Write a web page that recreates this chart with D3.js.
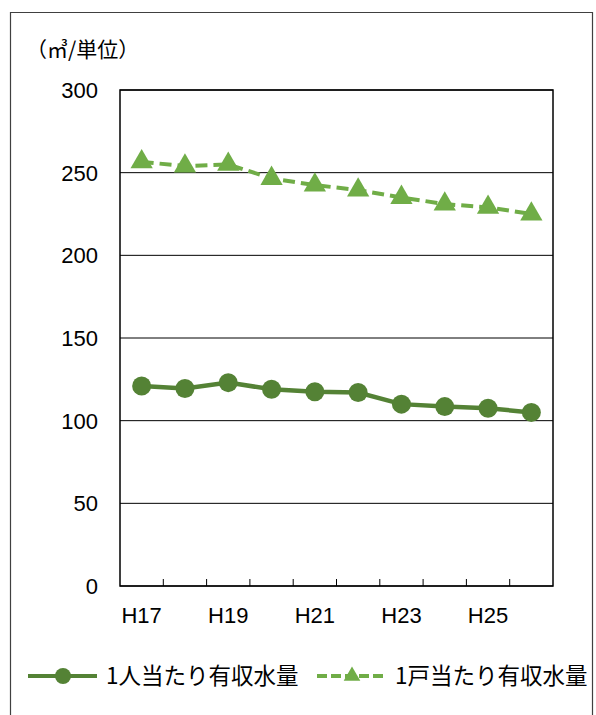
<!DOCTYPE html>
<html>
<head>
<meta charset="utf-8">
<script src="https://cdn.jsdelivr.net/npm/d3@7"></script>
<style>
  body { margin: 0; background: #fff; }
  svg { display: block; font-family: "Liberation Sans", "Noto Sans CJK JP", sans-serif; }
</style>
</head>
<body>
<svg id="chart" width="596" height="715"></svg>
<script>
// 年度
const categories = ["H17", "H18", "H19", "H20", "H21", "H22", "H23", "H24", "H25", "H26"];
const tickLabels = ["H17", "H19", "H21", "H23", "H25"];
const yTicks = [0, 50, 100, 150, 200, 250, 300];

// 1人当たり / 1戸当たり 有収水量 (㎥)
const perPerson = [121, 119.5, 123, 119, 117.5, 117, 110, 108.5, 107.5, 105];
const perHouse = [256.5, 254, 255, 246.5, 242.5, 239.5, 235, 231, 229, 225];

const seriesNames = ["1人当たり有収水量", "1戸当たり有収水量"];

const width = 596, height = 715;
const margin = { top: 90, right: 43, bottom: 129, left: 120 };
const darkGreen = "#548235", lightGreen = "#70ad47";

const svg = d3.select("#chart");

// 外枠
svg.append("path")
    .attr("d", `M10.5,${height + 2}V12.5H592.5V${height + 2}`)
    .attr("fill", "none")
    .attr("stroke", "#404040")
    .attr("stroke-width", 1.2);

const x = d3.scaleBand()
    .domain(categories)
    .range([margin.left, width - margin.right])
    .padding(0);

const y = d3.scaleLinear()
    .domain([0, 300])
    .range([height - margin.bottom, margin.top]);

// グリッド線
svg.append("g")
    .selectAll("line")
    .data(yTicks)
    .join("line")
    .attr("x1", margin.left)
    .attr("x2", width - margin.right)
    .attr("y1", d => y(d))
    .attr("y2", d => y(d))
    .attr("stroke", "#000")
    .attr("stroke-width", 1);

// 枠
svg.append("rect")
    .attr("x", margin.left)
    .attr("y", margin.top)
    .attr("width", width - margin.left - margin.right)
    .attr("height", height - margin.top - margin.bottom)
    .attr("fill", "none")
    .attr("stroke", "#000")
    .attr("stroke-width", 1.5);

// x 目盛り (内側)
svg.append("g")
    .selectAll("line")
    .data(categories.slice(1))
    .join("line")
    .attr("x1", d => x(d))
    .attr("x2", d => x(d))
    .attr("y1", y(0))
    .attr("y2", y(0) - 7)
    .attr("stroke", "#000")
    .attr("stroke-width", 1);

// y ラベル
svg.append("g")
    .selectAll("text")
    .data(yTicks)
    .join("text")
    .attr("x", 98)
    .attr("y", d => y(d))
    .attr("dy", "0.36em")
    .attr("text-anchor", "end")
    .attr("font-size", 22)
    .text(d => d);

// x ラベル
svg.append("g")
    .selectAll("text")
    .data(tickLabels)
    .join("text")
    .attr("x", d => x(d) + x.bandwidth() / 2)
    .attr("y", 623)
    .attr("text-anchor", "middle")
    .attr("font-size", 22)
    .text(d => d);

// 単位
svg.append("text")
    .attr("x", 26)
    .attr("y", 57)
    .attr("font-size", 21)
    .attr("font-family", "'Noto Sans CJK JP', sans-serif")
    .text("（㎥/単位）");

const line = d3.line()
    .x((d, i) => x(categories[i]) + x.bandwidth() / 2)
    .y(d => y(d));

const tri = d3.symbol().type(d3.symbolTriangle).size(215);

// 1戸当たり
svg.append("path")
    .datum(perHouse)
    .attr("d", line)
    .attr("fill", "none")
    .attr("stroke", lightGreen)
    .attr("stroke-width", 4)
    .attr("stroke-dasharray", "12,6");

svg.append("g")
    .selectAll("path")
    .data(perHouse)
    .join("path")
    .attr("d", tri)
    .attr("transform", (d, i) => `translate(${x(categories[i]) + x.bandwidth() / 2},${y(d)})`)
    .attr("fill", lightGreen);

// 1人当たり
svg.append("path")
    .datum(perPerson)
    .attr("d", line)
    .attr("fill", "none")
    .attr("stroke", darkGreen)
    .attr("stroke-width", 4.5);

svg.append("g")
    .selectAll("circle")
    .data(perPerson)
    .join("circle")
    .attr("cx", (d, i) => x(categories[i]) + x.bandwidth() / 2)
    .attr("cy", d => y(d))
    .attr("r", 9.5)
    .attr("fill", darkGreen);

// 凡例
const legY = 676;
const leg = svg.append("g").attr("font-family", "'Noto Sans CJK JP', sans-serif").attr("font-size", 22.5);

leg.append("line")
    .attr("x1", 28).attr("x2", 97).attr("y1", legY).attr("y2", legY)
    .attr("stroke", darkGreen).attr("stroke-width", 4);
leg.append("circle")
    .attr("cx", 63).attr("cy", legY).attr("r", 8).attr("fill", darkGreen);
leg.append("text")
    .attr("x", 106).attr("y", legY).attr("dy", "0.36em")
    .text(seriesNames[0]);

leg.append("line")
    .attr("x1", 317).attr("x2", 387).attr("y1", legY).attr("y2", legY)
    .attr("stroke", lightGreen).attr("stroke-width", 4)
    .attr("stroke-dasharray", "10,4");
leg.append("path")
    .attr("d", d3.symbol().type(d3.symbolTriangle).size(120))
    .attr("transform", `translate(352,${legY})`)
    .attr("fill", lightGreen);
leg.append("text")
    .attr("x", 395).attr("y", legY).attr("dy", "0.36em")
    .text(seriesNames[1]);
</script>
</body>
</html>
